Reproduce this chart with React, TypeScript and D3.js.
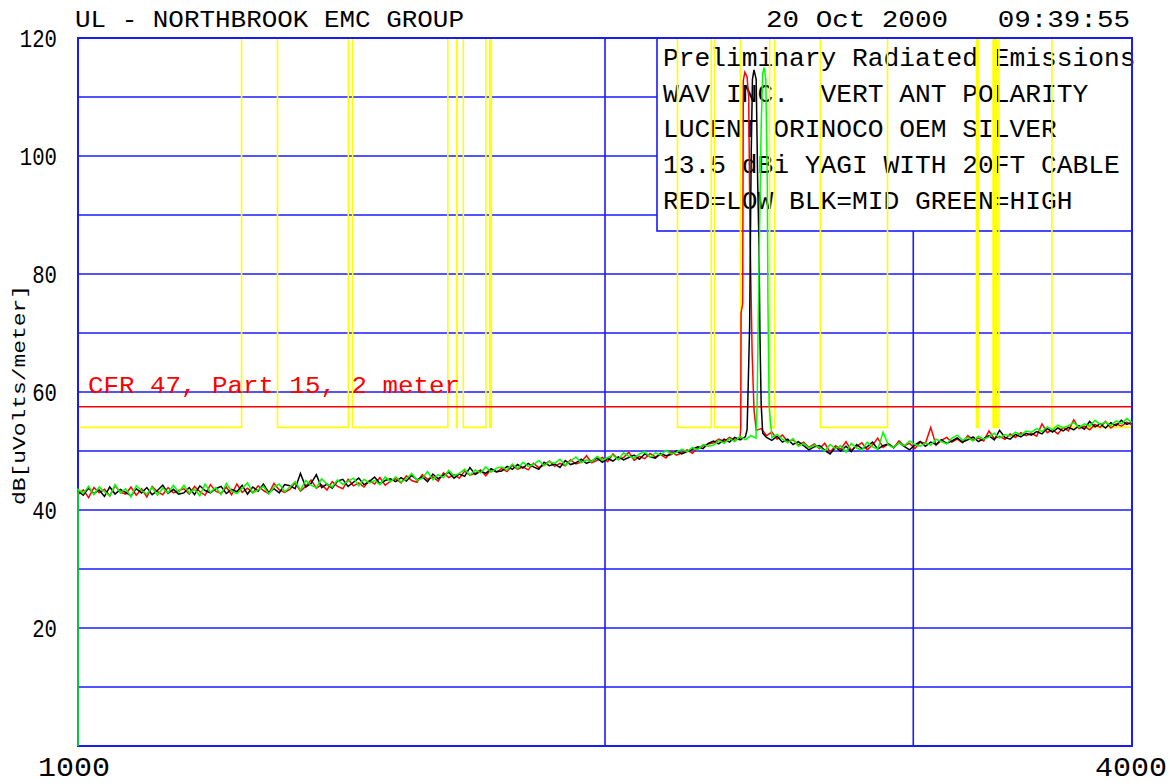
import React, { useEffect, useRef } from 'react';
import * as d3 from 'd3';

// sweep span (MHz) and axis labels
const startMHz = 1000;
const stopMHz = 4000;
const xLabels = [1000, 4000];
const xGrid = [2000, 3000];
const yLabels = [20, 40, 60, 80, 100, 120];
const yGrid = [10, 20, 30, 40, 50, 60, 70, 80, 90, 100, 110];

const headerLeft = 'UL - NORTHBROOK EMC GROUP';
const headerRight = '20 Oct 2000   09:39:55';
const yTitle = 'dB[uVolts/meter]';
const limitLabel = 'CFR 47, Part 15, 2 meter';
const notes = [
  'Preliminary Radiated Emissions',
  'WAV INC.  VERT ANT POLARITY',
  'LUCENT ORINOCO OEM SILVER',
  '13.5 dBi YAGI WITH 20FT CABLE',
  'RED=LOW BLK=MID GREEN=HIGH'
];

// limits
const limitLevel = 57.5;
const restrictedLevel = 54;
const openLevel = 120;
const bandStart = [960, 1300, 1435, 1645.5, 1660, 1718.8, 2200, 2310, 2483.5, 2655, 3260, 3332, 3345.8, 3600];
const bandStop = [1240, 1427, 1626.5, 1646.5, 1710, 1722.2, 2300, 2390, 2500, 2900, 3267, 3339, 3358, 4400];

// noise floor, one value per sweep point (log spaced)
const redLevels = [
  42.6, 43.4, 42.1, 43.8, 42.9, 43.5, 42.4, 44.1, 43.0, 42.7, 43.9, 42.5, 43.6, 42.2, 44.0, 43.1, 42.6, 43.8, 42.9, 43.3,
  43.6, 42.7, 44.0, 43.1, 42.5, 44.3, 43.2, 42.8, 43.9, 42.6, 44.4, 43.0, 43.7, 42.9, 44.1, 43.3, 42.8, 44.5, 43.4, 43.0,
  43.5, 44.6, 43.2, 44.0, 45.1, 43.7, 44.3, 43.4, 44.8, 44.0, 43.6, 45.2, 44.1, 44.6, 43.9, 45.0, 44.4, 45.5, 44.2, 44.9,
  45.3, 44.6, 45.8, 45.0, 44.7, 46.0, 45.2, 45.6, 44.9, 46.3, 45.5, 46.0, 45.4, 46.6, 45.9, 46.2, 46.8, 45.8, 46.9, 46.4,
  47.0, 46.5, 47.6, 46.9, 47.3, 46.8, 47.9, 47.2, 47.6, 48.3, 47.4, 47.9, 47.5, 48.5, 47.8, 48.1, 49.2, 48.0, 48.4, 48.9,
  48.2, 49.5, 48.6, 48.9, 49.8, 48.4, 49.1, 48.7, 49.6, 49.0, 49.4, 48.8, 49.9, 49.3, 49.7, 50.2, 49.6, 50.5, 50.9, 51.2,
  51.4, 52.0, 51.6, 52.3, 51.8, 52.2, 52.6, 52.1, 53.0, 53.8, 52.6, 53.2, 52.0, 52.7, 51.6, 51.9, 51.0, 51.5, 50.6, 51.2,
  50.4, 51.3, 49.8, 50.9, 50.3, 51.6, 50.1, 50.8, 51.4, 50.2, 51.0, 52.2, 50.6, 51.2, 50.5, 51.7, 50.9, 51.3, 50.4, 51.5,
  51.3, 54.0, 51.0, 51.8, 52.3, 51.5, 52.0, 51.4, 52.6, 51.9, 52.2, 51.7, 53.4, 52.1, 52.5, 52.0, 52.9, 52.3, 53.1, 52.6,
  53.0, 52.5, 54.6, 53.1, 53.6, 52.9, 54.0, 53.4, 55.3, 53.8, 54.2, 53.6, 54.5, 54.0, 55.0, 53.9, 54.6, 54.2, 54.9, 54.4
];
const blackLevels = [
  43.2, 42.5, 43.7, 42.8, 43.4, 42.3, 43.9, 42.7, 43.5, 43.0, 42.4, 43.6, 42.9, 43.8, 42.6, 43.3, 44.2, 42.8, 43.5, 42.7,
  42.9, 43.8, 42.6, 44.1, 43.3, 42.9, 43.6, 44.0, 42.8, 43.5, 43.1, 44.2, 42.7, 43.9, 43.2, 44.4, 43.0, 43.6, 42.9, 44.3,
  44.1, 43.6, 46.2, 43.9, 44.5, 46.0, 43.8, 44.4, 43.7, 44.9, 45.2, 44.0, 44.7, 45.4, 44.3, 44.8, 45.6, 44.5, 45.0, 45.3,
  44.8, 45.5, 44.9, 45.9, 45.1, 45.6, 44.8, 46.1, 45.3, 45.9, 46.4, 45.4, 46.1, 45.7, 47.2, 46.0, 46.6, 46.2, 47.0, 46.5,
  46.6, 47.4, 46.9, 47.7, 47.1, 47.9, 47.3, 46.9, 48.1, 47.5, 47.8, 47.2, 48.4, 47.7, 48.0, 48.6, 47.9, 48.3, 48.8, 48.1,
  48.7, 48.3, 49.0, 48.5, 48.9, 49.3, 48.6, 49.5, 49.0, 48.8, 49.6, 49.2, 49.4, 50.0, 49.5, 49.9, 50.3, 50.7, 50.4, 51.3,
  51.7, 51.2, 52.0, 51.5, 52.3, 51.9, 52.4, 52.0, 51.8, 52.2, 52.3, 51.8, 52.5, 51.5, 52.0, 51.1, 51.6, 50.9, 50.2, 50.7,
  50.9, 50.1, 49.5, 50.6, 50.0, 50.8, 49.9, 51.1, 50.4, 50.7, 51.5, 50.3, 50.9, 51.2, 50.6, 51.4, 50.8, 50.2, 51.0, 51.6,
  50.8, 51.5, 51.1, 51.9, 51.3, 51.7, 52.2, 51.5, 51.9, 52.4, 51.6, 52.1, 52.6, 51.9, 53.5, 52.3, 52.0, 52.8, 52.4, 53.0,
  52.7, 53.3, 52.9, 53.8, 53.2, 53.9, 53.4, 54.0, 53.6, 54.3, 53.7, 55.0, 54.1, 54.6, 53.9, 54.8, 54.3, 55.2, 54.5, 54.9
];
const greenLevels = [
  43.5, 42.8, 44.0, 42.6, 43.9, 43.1, 42.4, 44.3, 42.9, 43.6, 42.2, 44.1, 43.3, 42.7, 43.8, 42.5, 43.7, 42.9, 44.2, 43.0,
  44.2, 42.9, 43.5, 42.4, 44.4, 43.0, 43.8, 42.6, 44.5, 43.2, 42.8, 43.7, 44.6, 42.9, 43.4, 44.0, 42.7, 43.9, 44.4, 43.1,
  43.9, 44.8, 43.4, 45.0, 44.2, 43.8, 45.3, 44.4, 43.9, 45.1, 44.3, 44.9, 45.4, 44.1, 45.2, 44.6, 45.0, 44.3, 45.6, 44.8,
  45.6, 44.7, 45.3, 46.2, 45.0, 45.4, 46.5, 45.1, 46.0, 45.5, 46.7, 45.8, 46.2, 46.9, 45.9, 46.8, 46.3, 47.3, 46.4, 47.1,
  47.3, 46.8, 47.8, 47.0, 48.1, 47.4, 47.7, 48.4, 47.5, 48.2, 47.9, 48.6, 47.6, 48.3, 49.0, 48.0, 48.5, 48.2, 49.1, 48.4,
  48.9, 49.3, 48.5, 49.7, 49.1, 48.8, 49.5, 49.9, 48.9, 49.7, 49.3, 50.1, 49.5, 49.8, 50.3, 49.9, 50.6, 50.2, 51.1, 50.8,
  51.0, 51.8, 51.3, 52.1, 51.6, 52.5, 51.9, 52.6, 52.2, 52.4, 52.0, 52.3, 52.8, 52.0, 51.4, 52.1, 50.8, 51.3, 50.5, 51.0,
  50.6, 50.0, 51.1, 50.4, 50.9, 49.8, 51.3, 50.5, 50.1, 51.5, 50.7, 50.3, 53.2, 51.0, 50.6, 51.4, 50.9, 51.7, 51.1, 50.8,
  51.4, 51.0, 52.0, 51.6, 51.2, 52.2, 52.7, 51.8, 52.3, 51.7, 52.5, 52.0, 52.4, 53.0, 52.2, 52.8, 52.5, 53.2, 52.7, 53.4,
  53.2, 53.8, 53.3, 54.1, 53.6, 54.4, 53.9, 54.3, 54.8, 54.0, 54.6, 54.2, 55.2, 54.5, 54.9, 54.3, 55.1, 54.6, 55.5, 54.8
];
const greenStartLevel = 0;

// carriers: low / mid / high channel
const redCarrierMHz = [2389, 2391, 2392, 2397, 2399, 2404, 2411, 2416, 2420, 2427, 2433, 2440];
const redCarrierLevels = [52.4, 54.0, 73.4, 75.0, 112.8, 114.2, 113.4, 110.0, 88.0, 66.6, 57.0, 53.5];
const blackCarrierMHz = [2411, 2414, 2419, 2424, 2428, 2433, 2440, 2445, 2449, 2452, 2456, 2461];
const blackCarrierLevels = [53.6, 60.0, 71.0, 100.0, 113.0, 114.6, 113.0, 95.0, 85.0, 70.0, 58.0, 53.0];
const greenCarrierMHz = [2440, 2443, 2446, 2451, 2456, 2461, 2466, 2471, 2476, 2478, 2482, 2488];
const greenCarrierLevels = [53.5, 58.0, 69.7, 88.0, 105.0, 114.0, 115.0, 113.0, 95.0, 75.0, 57.5, 54.0];

const BLUE = '#1a1aff';
const FONT = "'Liberation Mono', 'DejaVu Sans Mono', monospace";

function buildTrace(levels: number[], carrierMHz: number[], carrierLevels: number[]) {
  const n = levels.length;
  const lo = carrierMHz[0];
  const hi = carrierMHz[carrierMHz.length - 1];
  const pts = levels
    .map((v, i) => ({ f: startMHz * Math.pow(stopMHz / startMHz, i / (n - 1)), v }))
    .filter(p => p.f < lo || p.f > hi);
  carrierMHz.forEach((f, i) => pts.push({ f, v: carrierLevels[i] }));
  pts.sort((a, b) => a.f - b.f);
  return pts;
}

function limitPoints() {
  const pts: { f: number; v: number }[] = [];
  bandStart.forEach((s, i) => {
    const a = Math.max(s, startMHz);
    const b = Math.min(bandStop[i], stopMHz);
    if (a > startMHz) pts.push({ f: a, v: openLevel });
    pts.push({ f: a, v: restrictedLevel });
    pts.push({ f: b, v: restrictedLevel });
    if (b < stopMHz) pts.push({ f: b, v: openLevel });
  });
  return pts;
}

const App = () => {
  const ref = useRef<SVGSVGElement>(null);

  useEffect(() => {
    const width = 1170;
    const height = 783;
    const margin = { top: 38, right: 38, bottom: 37, left: 78 };

    const x = d3.scaleLog().domain([startMHz, stopMHz]).range([margin.left, width - margin.right]);
    const y = d3.scaleLinear().domain([0, 120]).range([height - margin.bottom, margin.top]);

    const svg = d3.select(ref.current);
    svg.selectAll('*').remove();

    svg.append('rect').attr('width', width).attr('height', height).attr('fill', 'white');

    // grid
    svg
      .selectAll('line.hgrid')
      .data(yGrid)
      .enter()
      .append('line')
      .attr('x1', x(startMHz))
      .attr('x2', x(stopMHz))
      .attr('y1', d => y(d))
      .attr('y2', d => y(d))
      .attr('stroke', BLUE)
      .attr('stroke-width', 1.6);

    svg
      .selectAll('line.vgrid')
      .data(xGrid)
      .enter()
      .append('line')
      .attr('x1', d => x(d))
      .attr('x2', d => x(d))
      .attr('y1', y(0))
      .attr('y2', y(120))
      .attr('stroke', BLUE)
      .attr('stroke-width', 1.6);

    // note box
    const boxLeft = 657;
    const boxBottom = 231;
    svg
      .append('rect')
      .attr('x', boxLeft)
      .attr('y', y(120))
      .attr('width', x(stopMHz) - boxLeft)
      .attr('height', boxBottom - y(120))
      .attr('fill', 'white')
      .attr('stroke', BLUE)
      .attr('stroke-width', 1.6);

    svg
      .selectAll('text.note')
      .data(notes)
      .enter()
      .append('text')
      .attr('x', 663)
      .attr('y', (d, i) => 66 + i * 35.7)
      .attr('font-family', FONT)
      .attr('font-size', 26)
      .attr('textLength', d => d.length * 15.75)
      .attr('lengthAdjust', 'spacingAndGlyphs')
      .style('white-space', 'pre')
      .attr('fill', 'black')
      .text(d => d);

    // header
    svg
      .append('text')
      .attr('x', 75)
      .attr('y', 27)
      .attr('font-family', FONT)
      .attr('font-size', 23)
      .attr('textLength', 389)
      .attr('lengthAdjust', 'spacingAndGlyphs')
      .text(headerLeft);
    svg
      .append('text')
      .attr('x', 766)
      .attr('y', 27)
      .attr('font-family', FONT)
      .attr('font-size', 23)
      .attr('textLength', 364)
      .attr('lengthAdjust', 'spacingAndGlyphs')
      .style('white-space', 'pre')
      .text(headerRight);

    // y labels
    svg
      .selectAll('text.ylab')
      .data(yLabels)
      .enter()
      .append('text')
      .attr('x', 57)
      .attr('y', d => y(d) + 9)
      .attr('text-anchor', 'end')
      .attr('font-family', FONT)
      .attr('font-size', 25)
      .attr('textLength', d => String(d).length * 12.4)
      .attr('lengthAdjust', 'spacingAndGlyphs')
      .text(d => d);

    svg
      .append('text')
      .attr('transform', 'translate(25,395) rotate(-90)')
      .attr('text-anchor', 'middle')
      .attr('font-family', FONT)
      .attr('font-size', 19)
      .attr('textLength', 220)
      .attr('lengthAdjust', 'spacingAndGlyphs')
      .text(yTitle);

    // x labels
    svg
      .selectAll('text.xlab')
      .data(xLabels)
      .enter()
      .append('text')
      .attr('x', (d, i) => (i === 0 ? x(d) - 4 : x(d) - 1))
      .attr('y', 776)
      .attr('text-anchor', 'middle')
      .attr('font-family', FONT)
      .attr('font-size', 28)
      .attr('textLength', 72)
      .attr('lengthAdjust', 'spacingAndGlyphs')
      .text(d => d);

    const line = d3
      .line<{ f: number; v: number }>()
      .x(d => x(d.f))
      .y(d => y(d.v));

    // restricted band limit
    svg
      .append('path')
      .attr('d', line(limitPoints()))
      .attr('fill', 'none')
      .attr('stroke', '#ffff00')
      .attr('stroke-width', 1.6);

    // part 15 limit
    svg
      .append('line')
      .attr('x1', x(startMHz))
      .attr('x2', x(stopMHz))
      .attr('y1', y(limitLevel))
      .attr('y2', y(limitLevel))
      .attr('stroke', '#ff0000')
      .attr('stroke-width', 1.6);
    svg
      .append('text')
      .attr('x', 88)
      .attr('y', 393)
      .attr('font-family', FONT)
      .attr('font-size', 23)
      .attr('textLength', 372)
      .attr('lengthAdjust', 'spacingAndGlyphs')
      .attr('fill', '#ff0000')
      .text(limitLabel);

    // frame
    svg
      .append('rect')
      .attr('x', x(startMHz))
      .attr('y', y(120))
      .attr('width', x(stopMHz) - x(startMHz))
      .attr('height', y(0) - y(120))
      .attr('fill', 'none')
      .attr('stroke', BLUE)
      .attr('stroke-width', 2);

    // traces
    const red = buildTrace(redLevels, redCarrierMHz, redCarrierLevels);
    const black = buildTrace(blackLevels, blackCarrierMHz, blackCarrierLevels);
    const green = buildTrace(greenLevels, greenCarrierMHz, greenCarrierLevels);
    green.unshift({ f: startMHz, v: greenStartLevel });

    [
      { data: red, color: '#ff0000' },
      { data: black, color: '#000000' },
      { data: green, color: '#00ff00' }
    ].forEach(s => {
      svg
        .append('path')
        .attr('d', line(s.data))
        .attr('fill', 'none')
        .attr('stroke', s.color)
        .attr('stroke-width', 1.5)
        .attr('stroke-linejoin', 'miter');
    });
  }, []);

  return (
    <svg
      ref={ref}
      width={1170}
      height={783}
      style={{ position: 'absolute', left: 0, top: 0, display: 'block' }}
    />
  );
};

export default App;
